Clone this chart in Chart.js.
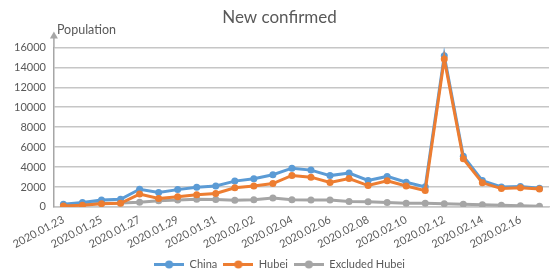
<!DOCTYPE html>
<html>
<head>
<meta charset="utf-8">
<script src="https://cdn.jsdelivr.net/npm/chart.js@4/dist/chart.umd.min.js"></script>
<style>
  html, body { margin: 0; padding: 0; background: #fff; }
  #box { width: 553px; height: 280px; }
</style>
</head>
<body>
<div id="box"><canvas id="chart"></canvas></div>
<script>
// dates (x categories)
const dates = ['2020.01.23', '2020.01.24', '2020.01.25', '2020.01.26', '2020.01.27', '2020.01.28', '2020.01.29',
    '2020.01.30', '2020.01.31', '2020.02.01', '2020.02.02', '2020.02.03', '2020.02.04', '2020.02.05',
    '2020.02.06', '2020.02.07', '2020.02.08', '2020.02.09', '2020.02.10', '2020.02.11', '2020.02.12',
    '2020.02.13', '2020.02.14', '2020.02.15', '2020.02.16', '2020.02.17'];

// new confirmed cases
const china = [259, 444, 688, 769, 1771, 1459, 1737, 1981, 2102, 2590, 2829, 3235, 3887, 3694,
    3143, 3399, 2656, 3062, 2478, 2015, 15152, 5090, 2641, 2009, 2048, 1886];
const hubei = [105, 180, 323, 371, 1291, 840, 1032, 1220, 1347, 1921, 2103, 2345, 3156, 2987,
    2447, 2841, 2147, 2618, 2097, 1638, 14840, 4823, 2420, 1843, 1933, 1807];
const excludedHubei = [154, 264, 365, 398, 480, 619, 705, 761, 755, 669, 726, 890, 731, 707,
    696, 558, 509, 444, 381, 377, 312, 267, 221, 166, 115, 79];

// y tick values
const yTicks = [0, 2000, 4000, 6000, 8000, 10000, 12000, 14000, 16000];

const FONT = 'Lato, "Liberation Sans", sans-serif';
const TEXT = '#595959';
const GRID = '#c6c6c6';

// legend icon: line with a dot in the middle
function legendIcon(color) {
    const c = document.createElement('canvas');
    c.width = 30; c.height = 9;
    const g = c.getContext('2d');
    g.strokeStyle = color;
    g.lineWidth = 3;
    g.beginPath(); g.moveTo(0, 4.5); g.lineTo(30, 4.5); g.stroke();
    g.fillStyle = color;
    g.beginPath(); g.arc(15, 4.5, 4, 0, Math.PI * 2); g.fill();
    return c;
}

// axis arrow + "Population" label
const axisArrow = {
    id: 'axisArrow',
    afterDraw(chart) {
        const ctx = chart.ctx;
        const area = chart.chartArea;
        const x = chart.scales.y.left + chart.scales.y.width;
        ctx.save();
        ctx.strokeStyle = '#a6a6a6';
        ctx.lineWidth = 1.5;
        ctx.beginPath();
        ctx.moveTo(x, area.top);
        ctx.lineTo(x, area.top - 10);
        ctx.stroke();
        ctx.fillStyle = '#a6a6a6';
        ctx.beginPath();
        ctx.moveTo(x - 4, area.top - 9);
        ctx.lineTo(x + 4, area.top - 9);
        ctx.lineTo(x, area.top - 16);
        ctx.closePath();
        ctx.fill();
        ctx.fillStyle = TEXT;
        ctx.font = '12.5px ' + FONT;
        ctx.textBaseline = 'middle';
        ctx.textAlign = 'left';
        ctx.fillText('Population', x + 3, area.top - 17);
        ctx.restore();
    }
};

const ctx = document.getElementById('chart').getContext('2d');
new Chart(ctx, {
    type: 'line',
    data: {
        labels: dates,
        datasets: [
            { label: 'China', data: china, borderColor: '#5b9bd5', backgroundColor: '#5b9bd5', order: 2 },
            { label: 'Hubei', data: hubei, borderColor: '#ed7d31', backgroundColor: '#ed7d31', order: 1 },
            { label: 'Excluded Hubei', data: excludedHubei, borderColor: '#a5a5a5', backgroundColor: '#a5a5a5', order: 3 }
        ]
    },
    options: {
        responsive: true,
        maintainAspectRatio: false,
        animation: false,
        layout: { padding: { left: 6, right: 0, top: 0, bottom: 0 } },
        elements: {
            line: { borderWidth: 3, tension: 0 },
            point: { radius: 3.5, borderWidth: 0, hoverRadius: 4 }
        },
        plugins: {
            title: {
                display: true,
                text: 'New confirmed',
                color: TEXT,
                font: { family: FONT, size: 17, weight: 'normal' },
                padding: { top: 7, bottom: 20 }
            },
            legend: {
                position: 'bottom',
                labels: {
                    color: TEXT,
                    font: { family: FONT, size: 11 },
                    usePointStyle: true,
                    pointStyleWidth: 30,
                    boxHeight: 9,
                    padding: 6,
                    sort: (a, b) => a.datasetIndex - b.datasetIndex,
                    generateLabels(chart) {
                        return chart.data.datasets.map((ds, i) => ({
                            text: ds.label,
                            fontColor: TEXT,
                            fillStyle: ds.borderColor,
                            strokeStyle: ds.borderColor,
                            lineWidth: 0,
                            pointStyle: legendIcon(ds.borderColor),
                            datasetIndex: i,
                            hidden: false
                        }));
                    }
                }
            },
            tooltip: { enabled: false }
        },
        scales: {
            x: {
                offset: true,
                grid: { display: false, drawTicks: false },
                border: { color: GRID, width: 1.5 },
                afterFit(scale) {
                    scale.height -= 4;
                },
                ticks: {
                    autoSkip: false,
                    minRotation: 28,
                    maxRotation: 28,
                    color: TEXT,
                    padding: 6,
                    font: { family: FONT, size: 11 },
                    callback: (v, i) => (i % 2 === 0 ? dates[i] : '')
                }
            },
            y: {
                min: 0,
                max: 16000,
                afterBuildTicks(scale) {
                    scale.ticks = yTicks.map(v => ({ value: v }));
                },
                grid: { color: GRID, lineWidth: 1.5, drawTicks: false },
                border: { color: '#a6a6a6', width: 1.5 },
                ticks: {
                    color: TEXT,
                    padding: 8,
                    font: { family: FONT, size: 11 },
                    callback: v => String(v)
                }
            }
        }
    },
    plugins: [axisArrow]
});
</script>
</body>
</html>
